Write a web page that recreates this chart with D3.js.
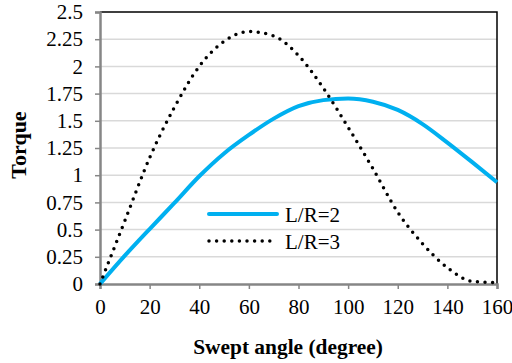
<!DOCTYPE html>
<html>
<head>
<meta charset="utf-8">
<script src="https://cdn.jsdelivr.net/npm/d3@7"></script>
<style>
  body { margin: 0; background: #fff; }
</style>
</head>
<body>
<div id="chart"></div>
<script>
// swept angle (degree)
const angles = [0, 10, 20, 30, 40, 50, 60, 70, 80, 90, 100, 110, 120, 130, 140, 150, 160];
const torqueLR2 = [0, 0.26, 0.505, 0.745, 0.99, 1.2, 1.37, 1.52, 1.635, 1.69, 1.705, 1.675, 1.6, 1.47, 1.3, 1.12, 0.935];
const torqueLR3 = [0, 0.58, 1.16, 1.625, 2.0, 2.23, 2.32, 2.28, 2.1, 1.8, 1.44, 1.06, 0.66, 0.37, 0.15, 0.025, 0.012];
const xTicks = [0, 20, 40, 60, 80, 100, 120, 140, 160];
const yTicks = [0, 0.25, 0.5, 0.75, 1, 1.25, 1.5, 1.75, 2, 2.25, 2.5];
const seriesNames = ["L/R=2", "L/R=3"];

const font = "Liberation Serif";
const width = 512, height = 363;
const margin = {top: 12, right: 15, bottom: 79, left: 100};

const svg = d3.select("#chart")
    .append("svg")
    .attr("width", width)
    .attr("height", height)
    .attr("font-family", font);

const x = d3.scaleLinear()
    .domain([0, 160])
    .range([margin.left, width - margin.right]);
const y = d3.scaleLinear()
    .domain([0, 2.5])
    .range([height - margin.bottom, margin.top]);

// gridlines
svg.append("g")
    .selectAll("line")
    .data(yTicks.filter(d => d > 0 && d < 2.5))
    .join("line")
    .attr("x1", x(0)).attr("x2", x(160))
    .attr("y1", d => y(d)).attr("y2", d => y(d))
    .attr("stroke", "#d9d9d9")
    .attr("stroke-width", 1.5);

// top and right border
svg.append("path")
    .attr("d", `M${x(0)},${y(2.5)}H${x(160)}V${y(0)}`)
    .attr("fill", "none")
    .attr("stroke", "#000")
    .attr("stroke-width", 1.5);

// y axis
const yAxis = svg.append("g")
    .attr("transform", `translate(${x(0)},0)`)
    .call(d3.axisLeft(y).tickValues(yTicks).tickFormat(d => d).tickSize(5).tickPadding(12))
    .attr("font-family", font)
    .attr("font-size", 21);
yAxis.select(".domain").attr("stroke", "#868686").attr("stroke-width", 2.5);
yAxis.selectAll(".tick line").attr("stroke", "#868686").attr("stroke-width", 1.5);
yAxis.selectAll(".tick text").attr("fill", "#000");

// x axis
const xAxis = svg.append("g")
    .attr("transform", `translate(0,${y(0)})`)
    .call(d3.axisBottom(x).tickValues(xTicks).tickSize(5).tickPadding(10))
    .attr("font-family", font)
    .attr("font-size", 21);
xAxis.select(".domain").attr("stroke", "#868686").attr("stroke-width", 2.5);
xAxis.selectAll(".tick line").attr("stroke", "#868686").attr("stroke-width", 1.5);
xAxis.selectAll(".tick text").attr("fill", "#000");

// axis titles
svg.append("text")
    .attr("x", 288)
    .attr("y", 354)
    .attr("text-anchor", "middle")
    .attr("font-weight", "bold")
    .attr("font-size", 21.4)
    .text("Swept angle (degree)");
svg.append("text")
    .attr("transform", "translate(25.5,145) rotate(-90)")
    .attr("text-anchor", "middle")
    .attr("font-weight", "bold")
    .attr("font-size", 22)
    .text("Torque");

// lines
const line = d3.line()
    .x((d, i) => x(angles[i]))
    .y(d => y(d))
    .curve(d3.curveMonotoneX);

svg.append("path")
    .datum(torqueLR2)
    .attr("fill", "none")
    .attr("stroke", "#00b0f0")
    .attr("stroke-width", 4)
    .attr("stroke-linejoin", "round")
    .attr("d", line);

svg.append("path")
    .datum(torqueLR3)
    .attr("fill", "none")
    .attr("stroke", "#000")
    .attr("stroke-width", 3.5)
    .attr("stroke-linecap", "round")
    .attr("stroke-dasharray", "0 7.6")
    .attr("d", line);

// legend
const legend = svg.append("g");
const legendRows = [
    {name: seriesNames[0], y: 214, stroke: "#00b0f0", dash: null, w: 4},
    {name: seriesNames[1], y: 241, stroke: "#000", dash: "0 7.6", w: 3.5}
];
legendRows.forEach(r => {
    legend.append("line")
        .attr("x1", 209).attr("x2", 277)
        .attr("y1", r.y).attr("y2", r.y)
        .attr("stroke", r.stroke)
        .attr("stroke-width", r.w)
        .attr("stroke-linecap", "round")
        .attr("stroke-dasharray", r.dash);
    legend.append("text")
        .attr("x", 285)
        .attr("y", r.y + 8)
        .attr("font-size", 21)
        .text(r.name);
});
</script>
</body>
</html>
